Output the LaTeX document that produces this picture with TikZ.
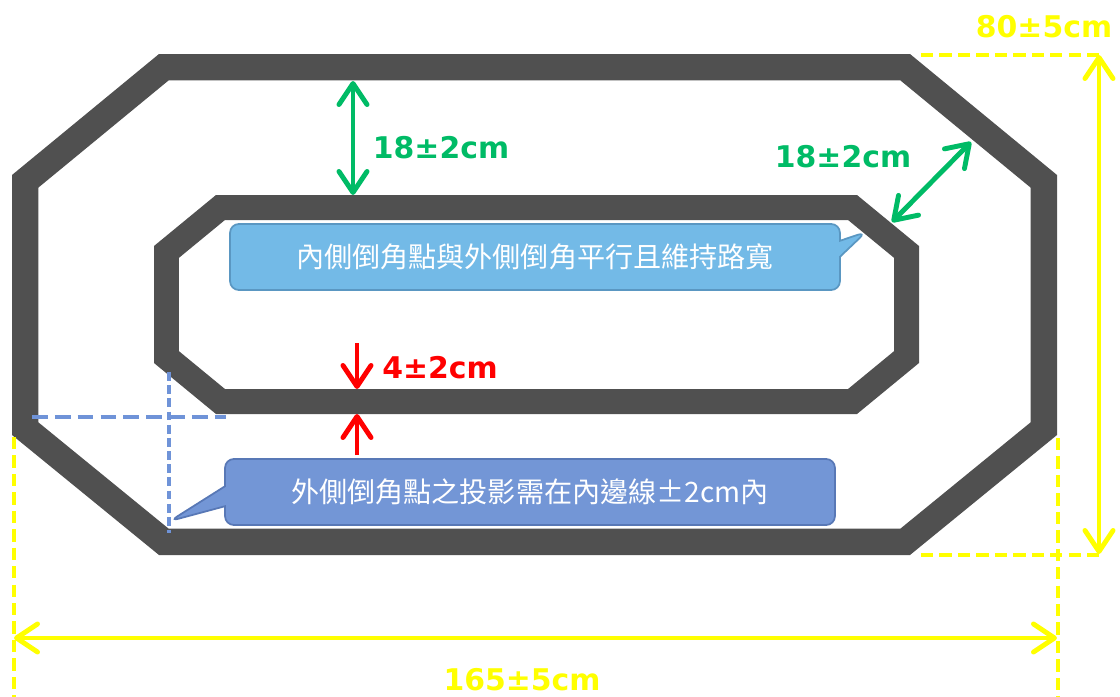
\documentclass[tikz,border=0pt]{standalone}
\usepackage{fontspec}
\usepackage{tikz}
\usetikzlibrary{arrows.meta,shapes.callouts}
\newfontfamily\cjk{Noto Sans CJK TC}
\newfontfamily\dimfont{DejaVu Sans}
\definecolor{track}{HTML}{505050}
\definecolor{roadgreen}{HTML}{00BB66}
\definecolor{sizeyellow}{HTML}{FFFF00}
\definecolor{noteA}{HTML}{73BAE7}
\definecolor{noteAline}{HTML}{5A97C2}
\definecolor{noteB}{HTML}{7396D6}
\definecolor{noteBline}{HTML}{5878B6}
\definecolor{proj}{HTML}{6F93D8}
\newcommand{\outerring}{(159,54) -- (910,54) -- (1057,175) -- (1057,435) -- (910,555) -- (159,555) -- (12,435) -- (12,175) -- cycle}
\newcommand{\innerring}{(216,195) -- (857,195) -- (919,246) -- (919,363) -- (857,414) -- (216,414) -- (154,363) -- (154,246) -- cycle}
\tikzset{
  dim/.style={line width=2.8pt, >={Straight Barb[length=12pt,width=16pt,round]}},
  lbl/.style={font=\dimfont\bfseries\fontsize{17}{20}\selectfont, inner sep=0pt},
  note/.style={rectangle callout, rounded corners=5pt, line width=1pt, text=white,
    minimum width=12.2cm, minimum height=1.32cm, inner sep=0pt,
    font=\cjk\fontsize{16}{19}\selectfont},
}

\begin{document}
\begin{tikzpicture}[x=0.02cm,y=-0.02cm]
    \useasboundingbox (0,0) rectangle (1120,697);

    \begin{scope}
    \clip \outerring;
    \draw[track, line width=1.06cm, line join=miter] \outerring;
    \end{scope}
    \begin{scope}
    \clip \innerring;
    \draw[track, line width=1cm, line join=miter] \innerring;
    \end{scope}

    \begin{scope}[proj, line width=2.1pt]
    \coordinate (ph1) at (32,417);
    \coordinate (ph2) at (226,417);
    \coordinate (pv1) at (169,372);
    \coordinate (pv2) at (169,533);
    \draw[dash pattern=on 9pt off 4pt] (ph1) -- (ph2);
    \draw[dash pattern=on 5pt off 2.5pt] (pv1) -- (pv2);
    \end{scope}

    \draw node at (535,257)[name=noteIn, note, fill=noteA, draw=noteAline,
      callout absolute pointer={(866,232)}, callout pointer width=0.32cm]
      {內側倒角點與外側倒角平行且維持路寬};
    \draw node at (530,492)[name=noteOut, note, fill=noteB, draw=noteBline,
      callout absolute pointer={(170,521)}, callout pointer width=0.4cm]
      {外側倒角點之投影需在內邊線±2cm內};

    \begin{scope}[roadgreen, dim]
    \coordinate (roadT1) at (353,81);
    \coordinate (roadT2) at (353,195);
    \draw[<->] (roadT1) -- (roadT2);
    \draw node at (441,148)[name=roadTL, lbl]{18±2cm};
    \coordinate (roadD1) at (971,142);
    \coordinate (roadD2) at (892,222);
    \draw[<->] (roadD1) -- (roadD2);
    \draw node at (843,157)[name=roadDL, lbl]{18±2cm};
    \end{scope}

    \begin{scope}[red, dim]
    \coordinate (lineA1) at (357,343);
    \coordinate (lineA2) at (357,389);
    \coordinate (lineB1) at (357,455);
    \coordinate (lineB2) at (357,414);
    \draw[->] (lineA1) -- (lineA2);
    \draw[->] (lineB1) -- (lineB2);
    \draw node at (440,368)[name=lineL, lbl]{4±2cm};
    \end{scope}

    \begin{scope}[sizeyellow, line width=2.2pt, dash pattern=on 7pt off 3.5pt]
    \draw (921,55) -- (1100,55);
    \draw (921,555) -- (1100,555);
    \draw (14,437) -- (14,697);
    \draw (1058,438) -- (1058,697);
    \end{scope}

    \begin{scope}[sizeyellow, dim]
    \coordinate (depth1) at (1099,55);
    \coordinate (depth2) at (1099,554);
    \draw[<->] (depth1) -- (depth2);
    \draw node at (1044,27)[name=depthL, lbl]{80±5cm};
    \coordinate (len1) at (14,638);
    \coordinate (len2) at (1057,638);
    \draw[<->] (len1) -- (len2);
    \draw node at (522,680)[name=lenL, lbl]{165±5cm};
    \end{scope}
  \end{tikzpicture}
\end{document}
